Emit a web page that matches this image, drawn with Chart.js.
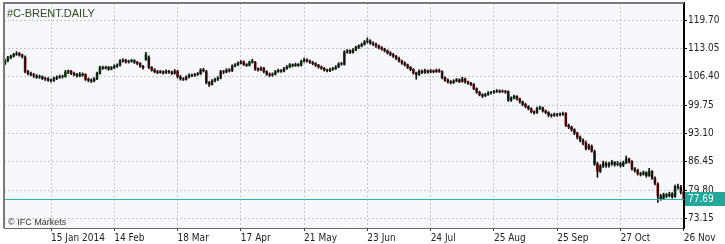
<!DOCTYPE html>
<html>
<head>
<meta charset="utf-8">
<script src="https://cdn.jsdelivr.net/npm/chart.js@4/dist/chart.umd.min.js"></script>
<style>
  html, body { margin: 0; padding: 0; background: #ffffff; }
  #wrap { width: 725px; height: 244px; }
</style>
</head>
<body>
<div id="wrap"><canvas id="brent" width="725" height="244"></canvas></div>
<script>
// daily OHLC, #C-BRENT, late Dec 2013 .. 26 Nov 2014
const opens = [
  109.5,110.2,110.9,111.2,111.6,111.8,111.5,111.0,107.6,107.1,106.9,106.6,106.3,106.4,106.0,105.9,105.6,105.5,106.0,106.3,
  106.5,106.4,107.5,107.7,107.2,106.9,106.6,107.0,106.9,105.8,105.6,105.4,105.9,107.2,108.6,108.4,108.6,108.2,108.5,108.9,
  109.1,110.1,110.3,109.9,110.0,110.2,109.8,109.5,108.9,110.4,111.0,108.6,108.0,107.6,107.4,107.6,107.3,107.7,107.5,107.2,
  107.7,106.4,105.9,105.8,106.3,106.8,106.7,106.9,107.1,108.0,107.6,105.0,104.6,105.4,105.8,106.1,107.6,107.5,108.0,107.8,
  108.9,109.2,109.6,109.9,109.3,109.1,109.8,109.8,108.2,108.0,108.4,107.6,107.0,106.8,107.0,107.6,107.9,107.7,108.3,108.7,
  109.2,109.0,109.3,109.1,110.0,110.4,110.1,109.8,109.5,109.1,108.7,108.4,108.0,107.8,108.1,108.3,108.7,109.4,109.3,112.2,
  112.5,112.1,112.7,113.3,113.6,114.0,114.6,114.8,114.3,114.0,113.6,113.2,112.9,112.5,112.0,111.6,111.2,110.7,110.1,109.6,
  109.2,108.6,108.1,107.3,106.9,107.7,107.4,107.8,107.5,107.8,107.6,107.9,107.6,106.2,105.6,105.2,105.0,105.4,105.7,105.3,
  105.9,105.2,104.9,104.6,103.6,102.8,102.2,101.9,102.2,102.6,102.7,102.9,103.1,102.9,103.0,102.9,100.9,101.4,101.8,101.2,
  100.5,99.9,99.4,98.9,98.2,98.0,98.9,99.1,98.4,98.0,97.4,97.3,97.6,97.5,97.6,97.8,95.0,94.6,94.0,93.2,
  92.2,91.5,90.8,89.6,90.1,88.9,85.9,84.2,85.4,86.1,85.6,85.9,86.3,85.8,86.0,85.6,86.2,87.1,86.5,84.8,
  84.4,83.7,83.5,83.9,83.2,84.2,82.6,81.2,78.4,77.8,78.7,78.4,78.9,78.3,80.6,80.4,79.3
];
const highs = [
  110.5,111.2,111.5,111.9,112.3,112.1,111.7,111.3,107.9,107.5,107.2,106.9,106.8,106.6,106.3,106.2,105.9,106.3,106.6,106.8,
  106.8,107.9,108.0,107.9,107.5,107.2,107.4,107.3,107.1,106.1,105.9,106.2,107.5,108.9,108.9,108.9,108.8,108.8,109.2,109.4,
  110.4,110.6,110.5,110.3,110.5,110.4,110.0,109.7,109.1,112.1,111.3,108.8,108.3,107.9,107.9,107.8,108.0,107.9,107.7,108.1,
  107.9,106.7,106.2,106.6,107.1,107.0,107.2,107.4,108.3,108.4,107.9,105.3,105.7,106.1,106.4,107.9,107.9,108.3,108.3,109.2,
  109.5,109.9,110.2,110.1,109.5,110.1,110.5,110.0,108.5,108.7,108.6,107.8,107.3,107.3,107.9,108.2,108.1,108.6,109.0,109.5,
  109.4,109.6,109.5,110.3,110.8,110.6,110.3,110.0,109.7,109.3,108.9,108.6,108.2,108.4,108.6,109.0,109.7,109.8,112.5,112.8,
  112.7,113.0,113.6,113.9,114.3,114.9,115.5,115.1,114.6,114.3,113.9,113.5,113.1,112.7,112.3,111.9,111.4,111.0,110.3,109.9,
  109.4,108.8,108.3,107.5,108.0,108.0,108.2,108.0,108.1,108.0,108.2,108.2,107.8,106.4,105.9,105.5,105.7,106.0,105.9,106.3,
  106.1,105.4,105.1,104.8,103.8,103.0,102.4,102.5,102.9,103.0,103.2,103.4,103.3,103.3,103.2,103.1,101.7,102.1,102.0,101.4,
  100.7,100.2,99.6,99.1,98.4,99.3,99.5,99.3,98.6,98.2,97.7,97.9,97.8,97.9,98.1,98.0,95.3,94.8,94.2,93.4,
  92.5,91.8,91.3,90.6,90.4,89.2,86.3,85.8,86.6,86.4,86.3,86.8,86.5,86.5,86.3,86.6,87.8,87.3,86.7,85.1,
  84.7,84.0,84.3,84.1,84.9,84.4,82.9,81.5,78.8,79.1,79.0,79.3,79.2,81.0,81.2,80.9,79.6
];
const lows = [
  109.2,109.9,110.6,111.0,111.4,111.2,110.8,107.3,106.8,106.6,106.2,106.0,106.0,105.7,105.5,105.3,105.1,105.3,105.7,106.0,
  106.1,106.3,107.1,106.9,106.6,106.3,106.4,106.5,105.5,105.2,105.0,105.2,105.7,107.0,108.1,108.2,107.9,108.0,108.3,108.6,
  108.9,109.8,109.6,109.6,109.8,109.5,109.2,108.6,108.2,110.2,108.3,107.7,107.3,107.1,107.2,107.0,107.1,107.2,106.9,107.0,
  106.1,105.6,105.5,105.6,106.1,106.4,106.5,106.7,106.9,107.5,104.7,104.1,104.4,105.2,105.5,105.9,107.1,107.3,107.5,107.6,
  108.7,109.0,109.4,109.0,108.8,108.9,109.6,107.9,107.7,107.8,107.3,106.7,106.4,106.5,106.8,107.4,107.4,107.5,108.1,108.5,
  108.7,108.8,108.8,108.9,109.8,109.8,109.5,109.2,108.8,108.4,108.1,107.7,107.5,107.6,107.9,108.1,108.5,109.1,109.1,111.9,
  111.8,111.9,112.5,113.0,113.4,113.8,114.3,114.0,113.7,113.3,112.9,112.6,112.2,111.7,111.3,110.9,110.4,109.8,109.3,108.9,
  108.3,107.8,107.0,105.8,106.7,107.1,107.2,107.2,107.3,107.3,107.4,107.4,105.9,105.3,104.9,104.7,104.8,105.2,105.0,105.1,
  104.9,104.6,104.3,103.3,102.5,101.9,101.5,101.7,102.0,102.3,102.5,102.7,102.6,102.7,102.5,100.6,100.6,101.2,100.9,100.2,
  99.6,99.1,98.6,97.9,97.6,97.8,98.7,98.1,97.7,97.0,96.9,97.1,97.1,97.2,97.3,94.7,94.2,93.6,92.8,91.8,
  91.1,90.4,89.2,89.3,88.7,85.6,82.8,83.9,85.1,85.1,85.2,85.6,85.4,85.5,85.2,85.3,86.0,86.1,84.5,84.0,
  83.3,83.1,83.3,82.8,83.0,82.3,81.0,76.9,77.4,77.6,78.0,78.2,77.9,78.1,80.0,78.9,77.4
];
const closes = [
  110.2,110.9,111.2,111.6,111.8,111.5,111.2,107.6,107.1,106.9,106.6,106.3,106.4,106.0,105.9,105.6,105.5,106.0,106.3,106.5,
  106.4,107.5,107.7,107.2,106.9,106.6,107.0,106.8,105.8,105.6,105.4,105.9,107.2,108.6,108.4,108.6,108.2,108.5,108.9,109.1,
  110.1,110.3,109.9,110.0,110.2,109.8,109.5,108.9,108.5,111.6,108.6,108.0,107.6,107.4,107.6,107.3,107.7,107.5,107.2,107.7,
  106.4,105.9,105.8,106.3,106.8,106.7,106.9,107.1,108.0,107.8,105.0,104.6,105.4,105.8,106.1,107.6,107.5,108.0,107.8,108.9,
  109.2,109.6,109.9,109.3,109.1,109.8,110.1,108.2,108.0,108.4,107.6,107.0,106.8,107.0,107.6,107.9,107.7,108.3,108.7,109.2,
  109.0,109.3,109.1,110.0,110.4,110.1,109.8,109.5,109.1,108.7,108.4,108.0,107.8,108.1,108.3,108.7,109.4,109.5,112.2,112.5,
  112.1,112.7,113.3,113.6,114.0,114.6,114.8,114.3,114.0,113.6,113.2,112.9,112.5,112.0,111.6,111.2,110.7,110.1,109.6,109.2,
  108.6,108.1,107.3,106.9,107.7,107.4,107.8,107.5,107.8,107.6,107.9,107.7,106.2,105.6,105.2,105.0,105.4,105.7,105.3,105.9,
  105.2,104.9,104.6,103.6,102.8,102.2,101.9,102.2,102.6,102.7,102.9,103.1,102.9,103.0,102.8,100.9,101.4,101.8,101.2,100.5,
  99.9,99.4,98.9,98.2,98.0,98.9,99.1,98.4,98.0,97.4,97.3,97.6,97.5,97.6,97.8,95.0,94.6,94.0,93.2,92.2,
  91.5,90.8,89.6,90.1,89.0,85.9,84.2,85.4,86.1,85.6,85.9,86.3,85.8,86.0,85.6,86.2,87.1,86.5,84.8,84.4,
  83.7,83.5,83.9,83.2,84.2,82.6,81.4,78.4,77.8,78.7,78.4,78.9,78.3,80.6,80.4,79.3,77.69
];

// x axis date labels and the bar index they sit on
const tickLabels = ["15 Jan 2014", "14 Feb", "18 Mar", "17 Apr", "21 May", "23 Jun", "24 Jul", "25 Aug", "25 Sep", "27 Oct", "26 Nov"];
const tickIdx = [16, 38, 60, 82, 104, 126, 148, 170, 192, 214, 236];
// y axis price levels
const priceTicks = [73.15, 79.80, 86.45, 93.10, 99.75, 106.40, 113.05, 119.70];

const lastPrice = closes[closes.length - 1];
const axisFont = { family: "'Liberation Sans Narrow', 'DejaVu Sans Condensed', 'Liberation Sans', sans-serif", size: 10 };

const bodies = closes.map((c, i) => ({ x: i, y: [opens[i], c] }));
const wicks = closes.map((c, i) => ({ x: i, y: [lows[i], highs[i]] }));

const decor = {
  id: "decor",
  beforeDraw(chart) {
    const { ctx, chartArea: a } = chart;
    ctx.save();
    ctx.fillStyle = "#f7f8fc";
    ctx.fillRect(a.left, a.top, a.right - a.left, a.bottom - a.top);
    ctx.restore();
  },
  afterDatasetsDraw(chart) {
    const { ctx, chartArea: a, scales } = chart;
    const y = Math.round(scales.y.getPixelForValue(lastPrice));
    ctx.save();
    // current price line (filled 1px strip so it stays crisp)
    ctx.fillStyle = "#22b8aa";
    ctx.fillRect(a.left, y, a.right - a.left, 1);
    // frame top / left
    ctx.setLineDash([]);
    ctx.strokeStyle = "#7a7a7a";
    ctx.lineWidth = 2;
    ctx.beginPath();
    ctx.moveTo(a.left, a.bottom);
    ctx.lineTo(a.left, a.top);
    ctx.lineTo(a.right, a.top);
    ctx.stroke();
    // title + copyright
    ctx.fillStyle = "#2b4a1b";
    ctx.font = "11px 'Liberation Sans', sans-serif";
    ctx.textBaseline = "alphabetic";
    ctx.fillText("#C-BRENT.DAILY", a.left + 3, a.top + 14);
    ctx.fillStyle = "#333333";
    ctx.font = "9px 'Liberation Sans', sans-serif";
    ctx.fillText("\u00a9 IFC Markets", a.left + 4, a.bottom - 3);
    // price tag on the axis
    ctx.fillStyle = "#22a89b";
    ctx.fillRect(a.right + 1, y - 7, chart.width - a.right - 1, 14);
    ctx.fillStyle = "#ffffff";
    ctx.font = "10px " + axisFont.family;
    ctx.textBaseline = "middle";
    ctx.fillText(lastPrice.toFixed(2), a.right + 4, y);
    ctx.restore();
  }
};

new Chart(document.querySelector("#brent"), {
  type: "bar",
  data: {
    datasets: [
      {
        // wicks drawn over the bodies, like the terminal does
        data: wicks,
        backgroundColor: "#111111",
        barThickness: 1,
        grouped: false,
        borderWidth: 0,
        order: 0,
      },
      {
        data: bodies,
        backgroundColor: (c) => closes[c.dataIndex] >= opens[c.dataIndex] ? "#226b22" : "#951414",
        barThickness: 2,
        grouped: false,
        borderWidth: 0,
        order: 1,
      },
    ],
  },
  options: {
    responsive: false,
    animation: false,
    devicePixelRatio: 1,
    layout: { padding: { left: 4, top: 3, right: 0, bottom: 0 } },
    plugins: {
      legend: { display: false },
      tooltip: { enabled: false },
    },
    scales: {
      x: {
        type: "linear",
        position: "bottom",
        offset: false,
        min: -0.35,
        max: 236.1,
        afterBuildTicks: (s) => { s.ticks = tickIdx.map((v) => ({ value: v })); },
        afterFit: (s) => { s.height = 16; s.paddingLeft = 0; s.paddingRight = 0; },
        ticks: {
          align: "start",
          padding: 1,
          maxRotation: 0,
          autoSkip: false,
          color: "#222222",
          font: axisFont,
          callback: (v) => tickLabels[tickIdx.indexOf(v)],
        },
        grid: { offset: false, color: "#c6c6c6", tickColor: "#333333", tickLength: 3 },
        border: { color: "#666666", width: 1, dash: [2, 2] },
      },
      y: {
        position: "right",
        min: 70.9,
        max: 123.7,
        afterBuildTicks: (s) => { s.ticks = priceTicks.map((v) => ({ value: v })); },
        afterFit: (s) => { s.width = 41; s.paddingTop = 0; s.paddingBottom = 0; },
        ticks: {
          padding: 1,
          color: "#222222",
          font: axisFont,
          callback: (v) => v.toFixed(2),
        },
        grid: { color: "#c6c6c6", tickColor: "#000000", tickLength: 3 },
        border: { color: "#000000", width: 2, dash: [2, 2] },
      },
    },
  },
  plugins: [decor],
});
</script>
</body>
</html>
